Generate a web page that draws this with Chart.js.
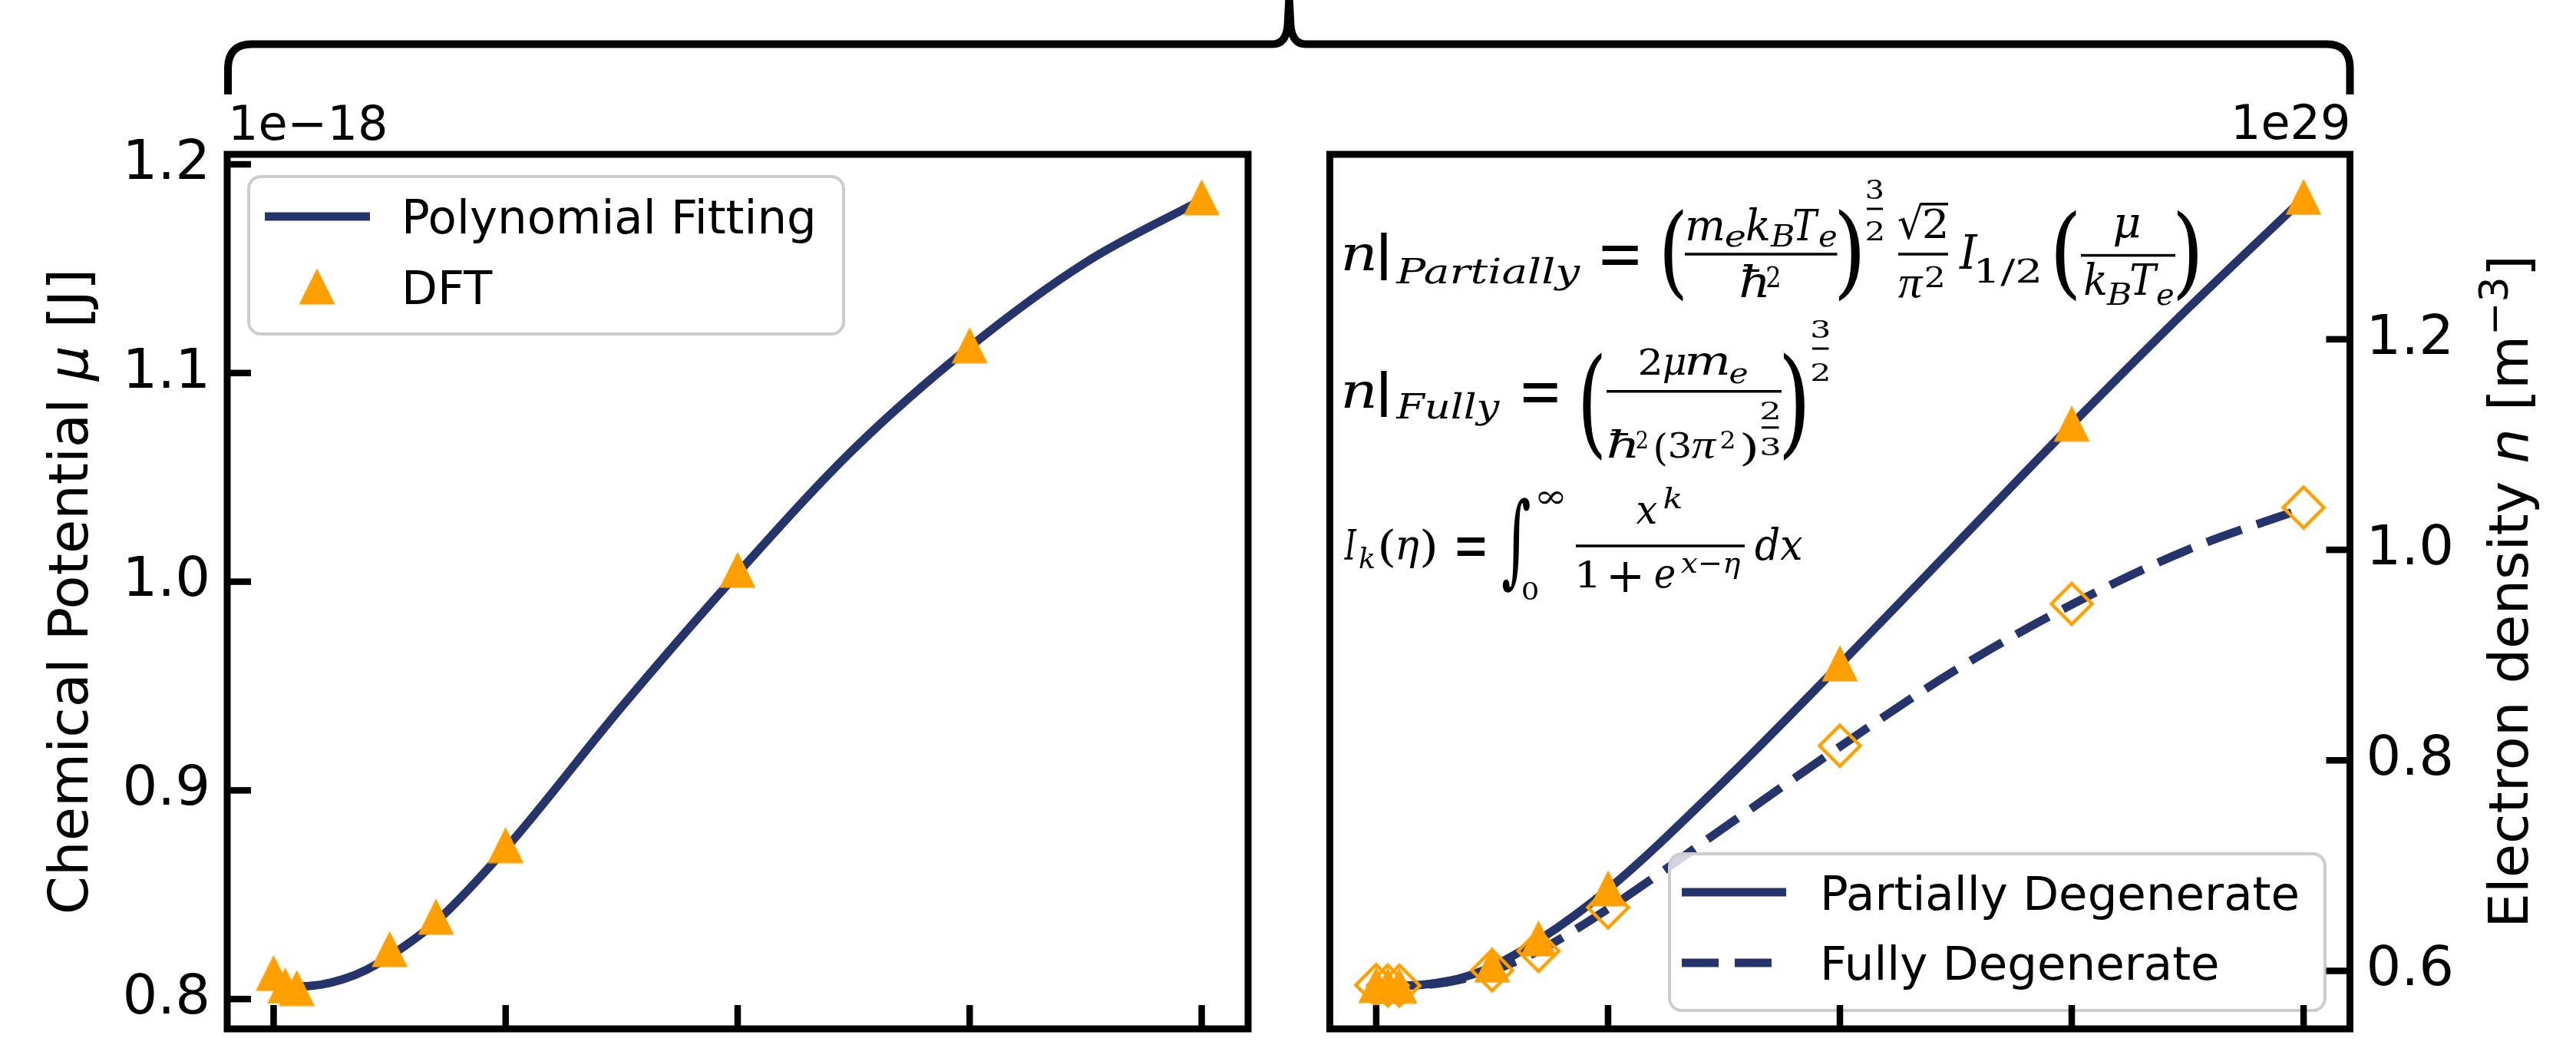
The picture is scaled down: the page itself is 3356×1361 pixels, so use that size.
<!DOCTYPE html>
<html lang="en">
<head>
<meta charset="UTF-8" />
<title>Chemical potential and electron density</title>
<script src="https://cdn.jsdelivr.net/npm/chart.js"></script>
<style>
  body { margin: 0; background: #fff; }
  .wrap { position: relative; width: 3356px; height: 1361px; overflow: hidden; }
  .wrap canvas { position: absolute; left: 0; top: 0; }
</style>
</head>
<body>
<div class="wrap">
  <canvas id="muChart" width="3356" height="1361"></canvas>
  <canvas id="nChart" width="3356" height="1361"></canvas>
</div>

<script>
  // ---- data (x tick labels are cut off in the figure) ----
  const temps = [0, 0.5, 1, 5, 7, 10, 20, 30, 40];
  const muDft = [0.8125, 0.8065, 0.8053, 0.8240, 0.8395, 0.8738, 1.0057, 1.1133, 1.1842];   // x1e-18 J
  const nPartial = [0.5866, 0.5862, 0.5860, 0.6060, 0.6310, 0.6784, 0.8922, 1.1200, 1.3353]; // x1e29 m^-3
  const nFully = [0.5866, 0.5862, 0.5860, 0.6006, 0.6190, 0.6603, 0.8139, 0.9487, 1.0402];

  const fitT = [0, 1, 2, 3, 4, 5, 7, 10, 15, 20, 25, 30, 35, 40];
  const muFit = [0.8075, 0.8060, 0.8068, 0.8095, 0.8140, 0.8205, 0.8370, 0.8720, 0.9400, 1.0040, 1.0635, 1.1125, 1.1530, 1.1830];
  const nPartialFit = [0.5865, 0.5860, 0.5868, 0.5900, 0.5955, 0.6040, 0.6290, 0.6775, 0.7800, 0.8910, 1.0050, 1.1190, 1.2290, 1.3340];
  const nFullyFit = [0.5865, 0.5860, 0.5866, 0.5890, 0.5935, 0.6000, 0.6190, 0.6590, 0.7360, 0.8130, 0.8860, 0.9480, 1.0000, 1.0395];

  const xTicks = [0, 10, 20, 30, 40];
  const muTicks = [0.8, 0.9, 1.0, 1.1, 1.2];
  const nTicks = [0.6, 0.8, 1.0, 1.2];

  const NAVY = '#25346a';
  const ORANGE = '#ffa000';
  const LW = 11;
  const DASH = [48, 21];
  const SANS = '"DejaVu Sans"';
  const SERIF = '"DejaVu Serif"';
  const TIMES = '"Liberation Serif"';

  const pts = (xs, ys) => xs.map((x, i) => ({ x: x, y: ys[i] }));

  // matplotlib-like markers
  function triMarker() {
    const c = document.createElement('canvas');
    c.width = 48; c.height = 48;
    const g = c.getContext('2d');
    g.fillStyle = ORANGE;
    g.beginPath(); g.moveTo(24, 0.5); g.lineTo(47.5, 47.5); g.lineTo(0.5, 47.5); g.closePath(); g.fill();
    return c;
  }
  function diaMarker() {
    const c = document.createElement('canvas');
    c.width = 64; c.height = 64;
    const g = c.getContext('2d');
    g.strokeStyle = ORANGE; g.lineWidth = 4.5;
    g.beginPath(); g.moveTo(32, 5.5); g.lineTo(58.5, 32); g.lineTo(32, 58.5); g.lineTo(5.5, 32); g.closePath(); g.stroke();
    return c;
  }
  const TRI = triMarker();
  const DIA = diaMarker();

  // ---- drawing helpers ----
  function fitW(ctx, s, x0, x1, base, font) {
    ctx.font = font;
    const m = ctx.measureText(s);
    const k = (x1 - x0) / (m.actualBoundingBoxLeft + m.actualBoundingBoxRight);
    ctx.save();
    ctx.translate(x0 + m.actualBoundingBoxLeft * k, base);
    ctx.scale(k, 1);
    ctx.fillText(s, 0, 0);
    ctx.restore();
  }
  function fitBox(ctx, s, x0, x1, y0, y1, font) {
    ctx.font = font || ('80px ' + SERIF);
    const m = ctx.measureText(s);
    const kx = (x1 - x0) / (m.actualBoundingBoxLeft + m.actualBoundingBoxRight);
    const ky = (y1 - y0) / (m.actualBoundingBoxAscent + m.actualBoundingBoxDescent);
    ctx.save();
    ctx.translate(x0 + m.actualBoundingBoxLeft * kx, y0 + m.actualBoundingBoxAscent * ky);
    ctx.scale(kx, ky);
    ctx.fillText(s, 0, 0);
    ctx.restore();
  }
  function bar(ctx, x0, x1, y, t) {
    t = t || 3.5;
    ctx.fillRect(x0, y - t / 2, x1 - x0, t);
  }
  function line(ctx, x0, y0, x1, y1) {
    ctx.beginPath(); ctx.moveTo(x0, y0); ctx.lineTo(x1, y1); ctx.stroke();
  }
  function it(sz) { return 'italic ' + sz + 'px ' + SERIF; }
  function up(sz) { return sz + 'px ' + SERIF; }
  function pi(sz) { return 'italic ' + sz + 'px ' + TIMES; }

  // rotated axis title, reading bottom to top; runs = [{t, font, dy}]
  function vTitle(ctx, runs, baseX, centerY) {
    let total = 0;
    runs.forEach(r => { ctx.font = r.font; r.w = ctx.measureText(r.t).width; total += r.w; });
    ctx.save();
    ctx.translate(baseX, centerY);
    ctx.rotate(-Math.PI / 2);
    ctx.textAlign = 'left';
    ctx.textBaseline = 'alphabetic';
    let x = -total / 2;
    runs.forEach(r => { ctx.font = r.font; ctx.fillText(r.t, x, r.dy || 0); x += r.w; });
    ctx.restore();
  }

  function legendFrame(ctx, x0, y0, x1, y1) {
    const r = 16;
    ctx.save();
    ctx.beginPath();
    ctx.moveTo(x0 + r, y0);
    ctx.arcTo(x1, y0, x1, y1, r);
    ctx.arcTo(x1, y1, x0, y1, r);
    ctx.arcTo(x0, y1, x0, y0, r);
    ctx.arcTo(x0, y0, x1, y0, r);
    ctx.closePath();
    ctx.fillStyle = 'rgba(255,255,255,0.8)';
    ctx.fill();
    ctx.lineWidth = 4;
    ctx.strokeStyle = '#cccccc';
    ctx.stroke();
    ctx.restore();
  }

  function frameAndTicks(chart, yVals, side) {
    const { ctx, chartArea: a, scales } = chart;
    ctx.save();
    ctx.strokeStyle = '#000';
    ctx.lineWidth = 8.5;
    xTicks.forEach(v => {
      const px = scales.x.getPixelForValue(v);
      line(ctx, px, a.bottom, px, a.bottom - 31);
    });
    yVals.forEach(v => {
      const py = scales.y.getPixelForValue(v);
      if (side === 'left') line(ctx, a.left, py, a.left + 31, py);
      else line(ctx, a.right, py, a.right - 31, py);
    });
    ctx.lineWidth = 9;
    ctx.lineJoin = 'miter';
    ctx.strokeRect(a.left, a.top, a.right - a.left, a.bottom - a.top);
    ctx.restore();
  }

  const tickFont = { family: 'DejaVu Sans', size: 72 };

  // ---- left panel: chemical potential ----
  const muPlugin = {
    id: 'muDecor',
    afterDatasetsDraw(chart) {
      const { ctx, chartArea: a } = chart;
      ctx.save();
      ctx.fillStyle = '#000';
      ctx.textAlign = 'left';
      ctx.textBaseline = 'alphabetic';

      // legend
      legendFrame(ctx, 324, 230, 1099, 435);
      ctx.strokeStyle = NAVY; ctx.lineWidth = LW;
      line(ctx, 345, 282, 482, 282);
      ctx.drawImage(TRI, 413 - 24, 373 - 24);
      ctx.font = '61px ' + SANS;
      ctx.fillText('Polynomial Fitting', 523, 304);
      ctx.fillText('DFT', 523, 396);

      frameAndTicks(chart, muTicks, 'left');

      // offset text and axis title
      ctx.font = '62px ' + SANS;
      ctx.fillText('1e\u221218', a.left + 1, 182);
      vTitle(ctx, [
        { t: 'Chemical Potential ', font: '72px ' + SANS },
        { t: '\u03bc', font: 'oblique 72px ' + SANS },
        { t: ' [J]', font: '72px ' + SANS }
      ], 114, (a.top + a.bottom) / 2);

      // brace spanning both panels
      ctx.strokeStyle = '#000';
      ctx.lineWidth = 10;
      ctx.lineCap = 'butt';
      ctx.beginPath();
      ctx.moveTo(297, 123);
      ctx.lineTo(297, 88);
      ctx.quadraticCurveTo(298, 57.5, 328, 57.5);
      ctx.lineTo(1658, 57.5);
      ctx.quadraticCurveTo(1675, 57.5, 1677.5, 34);
      ctx.lineTo(1679.5, -4);
      ctx.lineTo(1681.5, 34);
      ctx.quadraticCurveTo(1684, 57.5, 1701, 57.5);
      ctx.lineTo(3031, 57.5);
      ctx.quadraticCurveTo(3061, 57.5, 3061.5, 88);
      ctx.lineTo(3061.5, 123);
      ctx.stroke();
      ctx.restore();
    }
  };

  new Chart(document.getElementById('muChart'), {
    type: 'line',
    data: {
      datasets: [
        { label: 'DFT', data: pts(temps, muDft), showLine: false, pointStyle: TRI, pointRadius: 20, order: 0 },
        { label: 'Polynomial Fitting', data: pts(fitT, muFit), borderColor: NAVY, borderWidth: LW,
          pointRadius: 0, cubicInterpolationMode: 'monotone', order: 1 }
      ]
    },
    options: {
      responsive: false,
      animation: false,
      layout: { padding: { left: 0, top: 201, right: 1730, bottom: 14.5 } },
      plugins: { legend: { display: false }, tooltip: { enabled: false } },
      scales: {
        x: { type: 'linear', min: -2, max: 42, display: false },
        y: {
          type: 'linear', position: 'left', min: 0.7857, max: 1.2048,
          afterBuildTicks: s => { s.ticks = muTicks.map(v => ({ value: v })); },
          afterFit: s => { s.width = 296; s.paddingTop = 0; s.paddingBottom = 0; },
          grid: { display: false, drawTicks: false },
          border: { display: false },
          ticks: { font: tickFont, color: '#000', padding: 22, callback: v => v.toFixed(1) }
        }
      }
    },
    plugins: [muPlugin]
  });

  // ---- right panel: electron density ----
  function equations(ctx) {
    ctx.save();
    ctx.fillStyle = '#000';
    ctx.textAlign = 'left';
    ctx.textBaseline = 'alphabetic';

    // n|Partially = (m_e k_B T_e / hbar^2)^(3/2) sqrt2/pi^2 I_1/2(mu / k_B T_e)
    fitW(ctx, 'n', 1751, 1790, 351.5, it(64));
    fitBox(ctx, '|', 1799, 1807, 302, 365);
    fitW(ctx, 'Partially', 1818, 2059, 369, it(45));
    fitBox(ctx, '=', 2087, 2134, 318.5, 344);
    fitBox(ctx, '(', 2168, 2193, 271, 393);
    fitW(ctx, 'm', 2198, 2245, 312.7, it(56));
    fitW(ctx, 'e', 2248, 2273, 321, it(40));
    fitW(ctx, 'k', 2276, 2304, 312.7, it(56));
    fitW(ctx, 'B', 2306, 2337, 321, it(40));
    fitW(ctx, 'T', 2337, 2370, 312.7, it(56));
    fitW(ctx, 'e', 2370, 2392, 321, it(40));
    bar(ctx, 2195, 2393.5, 331);
    fitW(ctx, '\u0127', 2267.5, 2301, 386.5, it(56));
    fitW(ctx, '2', 2302, 2318, 373.7, up(38));
    fitBox(ctx, ')', 2395, 2423, 271, 393);
    fitW(ctx, '3', 2432, 2453, 258.8, up(34));
    bar(ctx, 2432, 2453, 272, 3);
    fitW(ctx, '2', 2432, 2453, 312.7, up(34));
    fitBox(ctx, '\u221a', 2473, 2506, 264, 312);
    ctx.fillRect(2503, 264, 35, 3.5);
    fitW(ctx, '2', 2507, 2534, 310, up(52));
    bar(ctx, 2473, 2538, 331);
    fitW(ctx, '\u03c0', 2473, 2506, 386.5, pi(60));
    fitW(ctx, '2', 2509, 2531, 373.7, up(38));
    fitW(ctx, 'I', 2552, 2577, 350.4, it(62));
    fitW(ctx, '1/2', 2577, 2656, 368, up(42));
    fitBox(ctx, '(', 2678, 2705, 272, 393);
    fitW(ctx, '\u03bc', 2754.5, 2787, 309, it(56));
    bar(ctx, 2711, 2834, 332.6);
    fitW(ctx, 'k', 2716, 2743, 384, it(56));
    fitW(ctx, 'B', 2744, 2776, 397, it(40));
    fitW(ctx, 'T', 2776, 2812, 384, it(56));
    fitW(ctx, 'e', 2810, 2831, 397, it(40));
    fitBox(ctx, ')', 2836, 2863, 272, 393);

    // n|Fully = (2 mu m_e / hbar^2 (3 pi^2)^(2/3))^(3/2)
    fitW(ctx, 'n', 1751, 1790, 530.8, it(64));
    fitBox(ctx, '|', 1799, 1807, 482, 543);
    fitW(ctx, 'Fully', 1818, 1954, 544.6, it(45));
    fitBox(ctx, '=', 1984.5, 2029, 497.5, 523);
    fitBox(ctx, '(', 2062, 2087, 457, 601);
    fitW(ctx, '2', 2137, 2162, 487.5, up(46));
    fitW(ctx, '\u03bc', 2167.6, 2195, 487.5, it(50));
    fitW(ctx, 'm', 2198, 2251, 487.5, it(52));
    fitW(ctx, 'e', 2253.6, 2276, 498.6, it(38));
    bar(ctx, 2093, 2321, 509.7);
    fitW(ctx, '\u0127', 2095.5, 2131.5, 596, it(48));
    fitW(ctx, '2', 2132.5, 2146, 584, up(32));
    fitW(ctx, '(', 2156.5, 2170, 600, up(48));
    fitW(ctx, '3', 2176, 2201, 596, up(44));
    fitW(ctx, '\u03c0', 2203.7, 2237, 596, pi(52));
    fitW(ctx, '2', 2242.5, 2259, 584, up(32));
    fitW(ctx, ')', 2270, 2287, 600, up(48));
    fitW(ctx, '2', 2295, 2317.5, 545.7, up(32));
    bar(ctx, 2295, 2317.5, 556.8, 3);
    fitW(ctx, '3', 2295, 2317.5, 593, up(32));
    fitBox(ctx, ')', 2323, 2351, 457, 601);
    fitW(ctx, '3', 2361, 2382.4, 440, up(32));
    bar(ctx, 2361, 2382.4, 454, 3);
    fitW(ctx, '2', 2361, 2382.4, 495.8, up(32));

    // I_k(eta) = int_0^inf x^k / (1 + e^(x-eta)) dx
    fitW(ctx, 'I', 1751, 1768, 729, it(54));
    fitW(ctx, 'k', 1771, 1790, 740, it(38));
    fitBox(ctx, '(', 1799, 1815, 687, 740);
    fitW(ctx, '\u03b7', 1821, 1848.5, 729, it(54));
    fitBox(ctx, ')', 1853, 1869, 687, 740);
    fitBox(ctx, '=', 1898.5, 1934.5, 699.5, 724);
    fitBox(ctx, '\u222b', 1957, 1993, 648, 773);
    fitBox(ctx, '\u221e', 2004, 2037, 640, 657);
    fitBox(ctx, '0', 1984, 2003, 757, 781.6);
    fitW(ctx, 'x', 2131.5, 2159, 681.7, it(52));
    fitW(ctx, 'k', 2167.6, 2190, 662, it(38));
    bar(ctx, 2053, 2273, 711);
    fitW(ctx, '1', 2056.6, 2079, 765, up(46));
    fitBox(ctx, '+', 2098, 2137, 731.5, 770.5);
    fitW(ctx, 'e', 2156.5, 2181.5, 765, it(52));
    fitW(ctx, 'x\u2212\u03b7', 2190, 2267.5, 745.5, it(38));
    fitW(ctx, 'dx', 2287, 2348, 729, it(56));
    ctx.restore();
  }

  const nPlugin = {
    id: 'nDecor',
    afterDatasetsDraw(chart) {
      const { ctx, chartArea: a } = chart;
      equations(ctx);
      ctx.save();
      ctx.fillStyle = '#000';
      ctx.textAlign = 'left';
      ctx.textBaseline = 'alphabetic';

      // legend
      legendFrame(ctx, 2175, 1112, 3029, 1316);
      ctx.strokeStyle = NAVY; ctx.lineWidth = LW;
      line(ctx, 2191, 1162, 2327, 1162);
      ctx.setLineDash(DASH);
      line(ctx, 2191, 1254, 2327, 1254);
      ctx.setLineDash([]);
      ctx.font = '61px ' + SANS;
      ctx.fillText('Partially Degenerate', 2371, 1185);
      ctx.fillText('Fully Degenerate', 2371, 1275.5);

      frameAndTicks(chart, nTicks, 'right');

      ctx.font = '62px ' + SANS;
      ctx.textAlign = 'right';
      ctx.fillText('1e29', a.right + 1, 181);
      ctx.textAlign = 'left';
      vTitle(ctx, [
        { t: 'Electron density ', font: '72px ' + SANS },
        { t: 'n', font: 'oblique 72px ' + SANS },
        { t: ' [m', font: '72px ' + SANS },
        { t: '\u22123', font: '52px ' + SANS, dy: -26 },
        { t: ']', font: '72px ' + SANS }
      ], 3293, (a.top + a.bottom) / 2);
      ctx.restore();
    }
  };

  new Chart(document.getElementById('nChart'), {
    type: 'line',
    data: {
      datasets: [
        { label: 'Fully (markers)', data: pts(temps, nFully), showLine: false, pointStyle: DIA, pointRadius: 20, order: 0 },
        { label: 'Partially (markers)', data: pts(temps, nPartial), showLine: false, pointStyle: TRI, pointRadius: 20, order: 1 },
        { label: 'Partially Degenerate', data: pts(fitT, nPartialFit), borderColor: NAVY, borderWidth: LW,
          pointRadius: 0, cubicInterpolationMode: 'monotone', order: 2 },
        { label: 'Fully Degenerate', data: pts(fitT, nFullyFit), borderColor: NAVY, borderWidth: LW,
          borderDash: DASH, pointRadius: 0, cubicInterpolationMode: 'monotone', order: 3 }
      ]
    },
    options: {
      responsive: false,
      animation: false,
      layout: { padding: { left: 1732.5, top: 201, right: 0, bottom: 14.5 } },
      plugins: { legend: { display: false }, tooltip: { enabled: false } },
      scales: {
        x: { type: 'linear', min: -2, max: 42, display: false },
        y: {
          type: 'linear', position: 'right', min: 0.5449, max: 1.3757,
          afterBuildTicks: s => { s.ticks = nTicks.map(v => ({ value: v })); },
          afterFit: s => { s.width = 294.5; s.paddingTop = 0; s.paddingBottom = 0; },
          grid: { display: false, drawTicks: false },
          border: { display: false },
          ticks: { font: tickFont, color: '#000', padding: 21, callback: v => v.toFixed(1) }
        }
      }
    },
    plugins: [nPlugin]
  });
</script>
</body>
</html>
